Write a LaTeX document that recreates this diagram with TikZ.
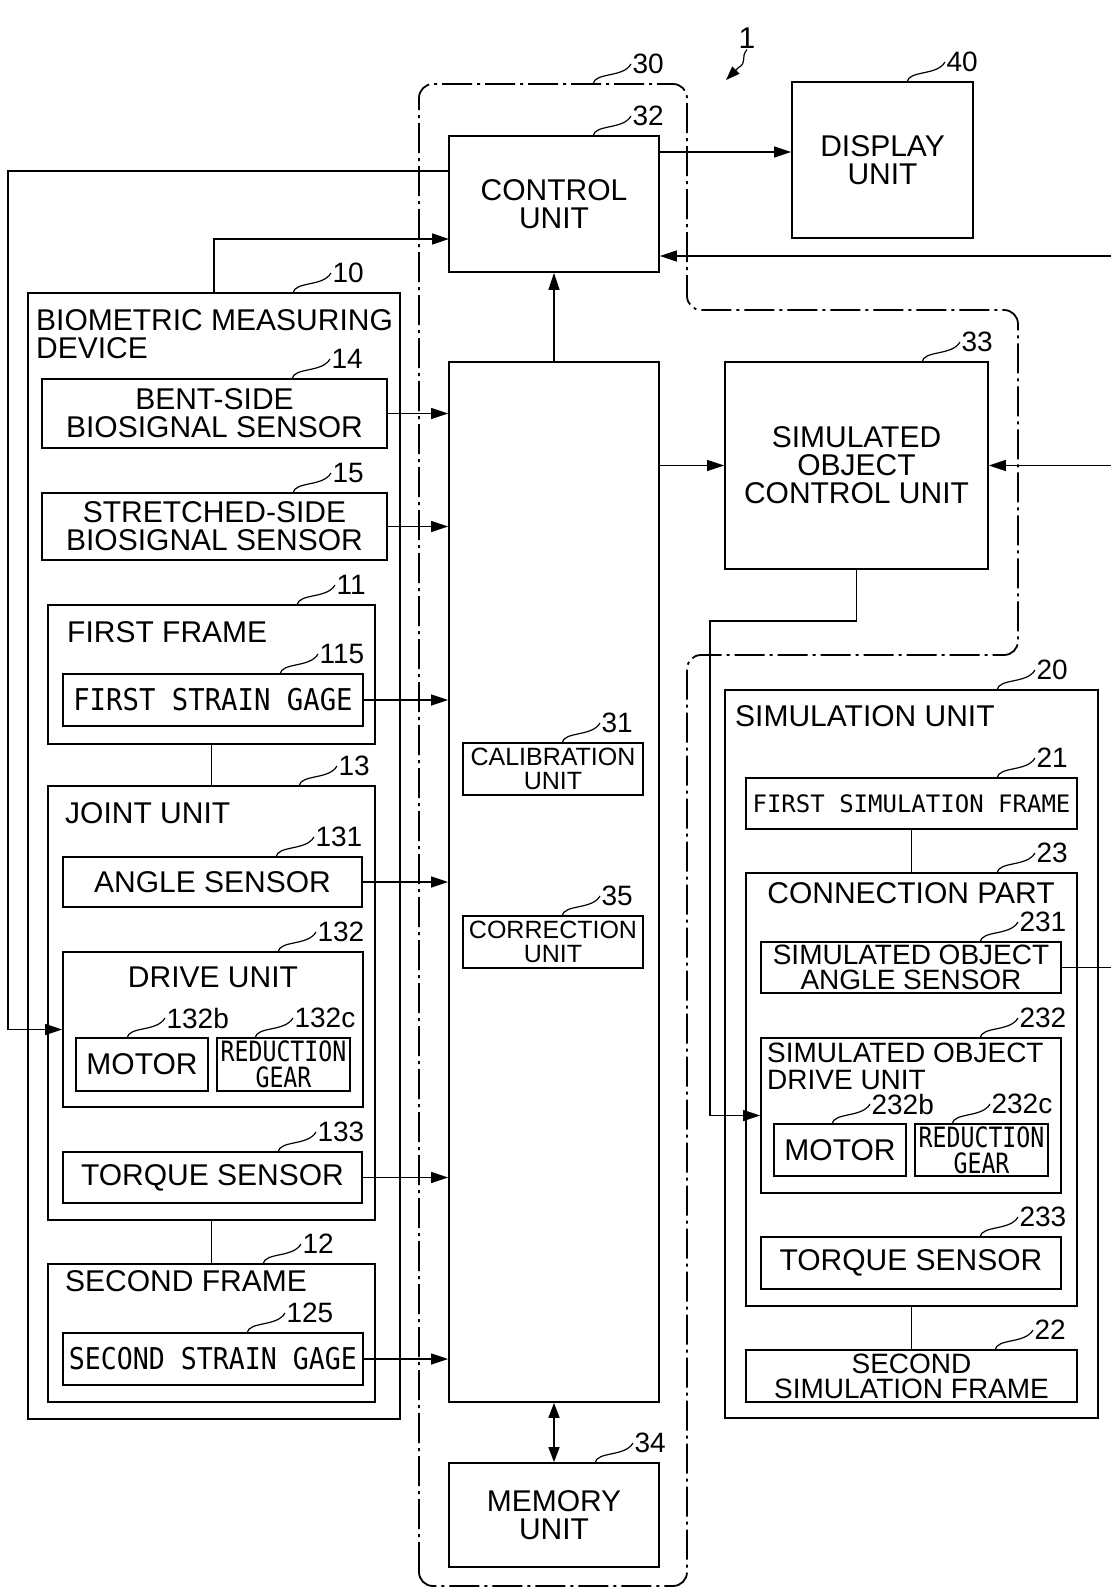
\documentclass[tikz,border=0pt]{standalone}
\usepackage{fontspec}
\setmainfont{Liberation Sans}
\newfontfamily\gagefont{DejaVu Sans Mono}
\usepackage{graphicx}
\usetikzlibrary{arrows.meta,calc}

\newcommand\fs[2]{\fontsize{#1}{#2}\selectfont}
\newcommand\nar[2]{\scalebox{#1}[1]{#2}}
% block from its corners: [style]{name}{x1}{y1}{x2}{y2}{text}
\newcommand\blk[7][]{\node[box, minimum width={#5-#3}, minimum height={#6-#4}, #1] (#2) at ({(#3+#5)/2},{(#4+#6)/2}) {#7};}
% reference numeral with its wavy leader: {name}{x}{y}{numeral}
\newcommand\refnum[4]{\begin{scope}[shift={(#2,#3)}]
  \draw[leader] (0,0) .. controls (2,-12) and (30,-6) .. (38,-20) node[refno] (#1) {#4};
\end{scope}}

\begin{document}
\begin{tikzpicture}[
  x=1pt, y=-1pt,
  box/.style={draw, line width=1.8pt, inner sep=0pt, align=center, font=\fs{30}{28}},
  title/.style={inner sep=0pt, align=left, font=\fs{30}{28}},
  gage/.style={font={\gagefont\fs{28}{26}}},
  arr/.style={-{Triangle[length=17pt,width=11pt]}, line width=1.5pt},
  dbl/.style={{Triangle[length=15pt,width=11pt]}-{Triangle[length=15pt,width=11pt]}, line width=1.5pt},
  link/.style={line width=1.5pt},
  leader/.style={line width=1.2pt},
  refno/.style={anchor=west, inner sep=1pt, font=\fs{28}{30}},
  frame/.style={line width=1.8pt, dash pattern=on 30pt off 5pt on 3pt off 5pt, rounded corners=14pt}
]
\useasboundingbox (0,0) rectangle (1111,1588);

% processing unit 30
\draw[frame] (419,1586) -- (419,84) -- (687,84) -- (687,310) -- (1018,310) -- (1018,655) -- (687,655) -- (687,1586) -- cycle;
\blk{ctrl}{449}{136}{659}{272}{CONTROL\\UNIT}
\blk{disp}{792}{82}{973}{238}{DISPLAY\\UNIT}
\blk{proc}{449}{362}{659}{1402}{}
\blk[font=\fs{25}{24}]{calu}{463}{743}{643}{795}{CALIBRATION\\UNIT}
\blk[font=\fs{25}{24}]{corr}{463}{916}{643}{968}{CORRECTION\\UNIT}
\blk{mem}{449}{1463}{659}{1567}{MEMORY\\UNIT}
\blk{socu}{725}{362}{988}{569}{SIMULATED\\OBJECT\\CONTROL UNIT}

% biometric measuring device 10
\blk{bmd}{28}{293}{400}{1419}{}
\node[title, anchor=west] (bmdt) at (36,334) {BIOMETRIC MEASURING\\DEVICE};
\blk{bent}{42}{379}{387}{448}{BENT-SIDE\\BIOSIGNAL SENSOR}
\blk{stre}{42}{493}{387}{560}{STRETCHED-SIDE\\BIOSIGNAL SENSOR}
\blk{ff}{48}{605}{375}{744}{}
\node[title, anchor=west] (fft) at (67,632) {FIRST FRAME};
\blk[font={\gagefont\fs{30}{30}}]{fsg}{63}{674}{363}{726}{\nar{0.91}{FIRST STRAIN GAGE}}
\blk{joint}{48}{786}{375}{1220}{}
\node[title, anchor=west] (jointt) at (65,813) {JOINT UNIT};
\blk{ang}{63}{857}{362}{907}{ANGLE SENSOR}
\blk{drv}{63}{952}{363}{1107}{}
\node[title] (drvt) at (213,977) {DRIVE UNIT};
\blk{mot}{76}{1038}{208}{1091}{MOTOR}
\blk[gage]{rg}{217}{1038}{350}{1091}{\nar{0.83}{REDUCTION}\\\nar{0.83}{GEAR}}
\blk{trq}{63}{1152}{362}{1203}{TORQUE SENSOR}
\blk{sf}{48}{1264}{375}{1402}{}
\node[title, anchor=west] (sft) at (65,1281) {SECOND FRAME};
\blk[font={\gagefont\fs{30}{30}}]{ssg}{63}{1333}{363}{1385}{\nar{0.886}{SECOND STRAIN GAGE}}

% simulation unit 20
\blk{sim}{725}{690}{1098}{1418}{}
\node[title, anchor=west] (simt) at (735,716) {SIMULATION UNIT};
\blk[font={\gagefont\fs{24}{24}}]{fsf}{746}{778}{1077}{829}{FIRST SIMULATION FRAME}
\blk{conn}{746}{873}{1077}{1306}{}
\node[title] (connt) at (911,893) {CONNECTION PART};
\blk[font=\fs{28}{25}]{soas}{761}{942}{1061}{993}{SIMULATED OBJECT\\ANGLE SENSOR}
\blk{sodu}{761}{1038}{1061}{1193}{}
\node[title, anchor=west, font=\fs{28}{27}] (sodut) at (767,1066) {SIMULATED OBJECT\\DRIVE UNIT};
\blk{smot}{774}{1124}{906}{1176}{MOTOR}
\blk[gage]{srg}{915}{1124}{1048}{1176}{\nar{0.83}{REDUCTION}\\\nar{0.83}{GEAR}}
\blk{strq}{761}{1237}{1061}{1289}{TORQUE SENSOR}
\blk[font=\fs{28}{25}]{ssf}{746}{1350}{1077}{1402}{SECOND\\SIMULATION FRAME}

% reference numerals
\node[refno, anchor=center, font=\fs{30}{30}] (n1) at (747,38) {1};
\coordinate (sysarrow) at (726,80);
\draw[leader, -{Triangle[length=14pt,width=10pt]}] (n1.south) .. controls (740,58) and (748,62) .. (738,68) -- (sysarrow);
\refnum{n30}{593}{84}{30}
\refnum{n32}{593}{136}{32}
\refnum{n40}{907}{82}{40}
\refnum{n10}{293}{293}{10}
\refnum{n14}{292}{379}{14}
\refnum{n15}{293}{493}{15}
\refnum{n11}{297}{605}{11}
\refnum{n115}{280}{674}{115}
\refnum{n13}{299}{786}{13}
\refnum{n131}{276}{857}{131}
\refnum{n132}{278}{952}{132}
\refnum{n132b}{127}{1038}{132b}
\refnum{n132c}{255}{1038}{132c}
\refnum{n133}{278}{1152}{133}
\refnum{n12}{263}{1264}{12}
\refnum{n125}{247}{1333}{125}
\refnum{n31}{562}{743}{31}
\refnum{n35}{562}{916}{35}
\refnum{n34}{595}{1463}{34}
\refnum{n33}{922}{362}{33}
\refnum{n20}{997}{690}{20}
\refnum{n21}{997}{778}{21}
\refnum{n23}{997}{873}{23}
\refnum{n231}{980}{942}{231}
\refnum{n232}{980}{1038}{232}
\refnum{n232b}{832}{1124}{232b}
\refnum{n232c}{952}{1124}{232c}
\refnum{n233}{980}{1237}{233}
\refnum{n22}{995}{1350}{22}

% connectors
\coordinate (rin1) at (1111,256);
\coordinate (rin2) at (1111,465);
\coordinate (rout) at (1111,967);
\coordinate (lrail) at (8,171);
\coordinate (bmdin) at (449,239);
\coordinate (cd) at (659,152);
\coordinate (bend) at (710,621);
\draw[arr] (cd) -- (cd -| disp.west);
\draw[arr] (rin1) -- (rin1 -| ctrl.east);
\draw[arr] (socu.east -| rin2) -- (socu.east);
\draw[link] (soas.east) -- (soas.east -| rout);
\draw[arr] (lrail -| ctrl.west) -- (lrail) |- (drv.west);
\draw[arr] (bmd.north) |- (bmdin);
\draw[arr] (proc.north) -- (ctrl.south);
\draw[dbl] (proc.south) -- (mem.north);
\draw[arr] (socu.west -| proc.east) -- (socu.west);
\draw[arr] (socu.south) |- (bend) |- (sodu.west);
\foreach \s in {bent,stre,fsg,ang,trq,ssg}
  \draw[arr] (\s.east) -- (\s.east -| proc.west);
\draw[link] (ff) -- (joint);
\draw[link] (joint) -- (sf);
\draw[link] (fsf) -- (conn);
\draw[link] (conn) -- (ssf);
\end{tikzpicture}
\end{document}
